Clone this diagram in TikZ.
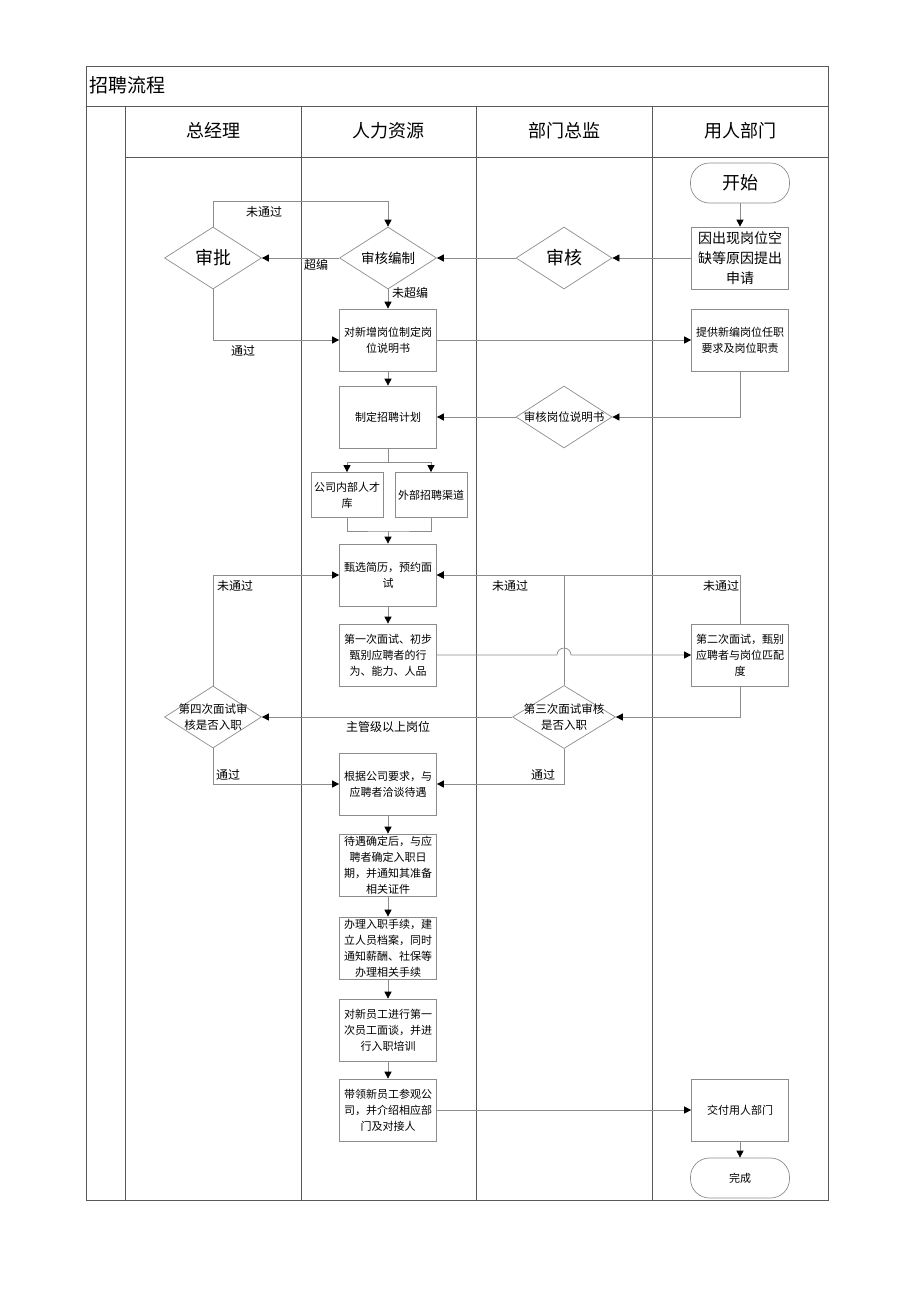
\documentclass[tikz,border=0pt]{standalone}
\usepackage{fontspec}
\setmainfont{Noto Sans CJK SC}
\usetikzlibrary{arrows.meta}
\usetikzlibrary{shapes.geometric}
\usetikzlibrary{positioning}
\definecolor{linegray}{gray}{0.55}
\definecolor{framegray}{gray}{0.35}

\begin{document}
\begin{tikzpicture}[x=1pt, y=-1pt,
    box/.style={draw=linegray, line width=0.7pt, minimum width=97pt, minimum height=62pt, inner sep=1pt,
      align=center, font=\fontsize{11}{16}\selectfont},
    smallbox/.style={box, minimum width=72pt, minimum height=45pt},
    term/.style={draw=linegray, line width=0.7pt, rounded corners=19pt, minimum width=99pt, minimum height=40pt,
      font=\fontsize{11}{14}\selectfont},
    dia/.style={draw=linegray, line width=0.7pt, shape=diamond, inner sep=0pt, minimum width=97pt, minimum height=62pt},
    dtxt/.style={align=center, font=\fontsize{11.5}{16}\selectfont},
    lbl/.style={font=\fontsize{12}{14}\selectfont, inner sep=0pt},
    flow/.style={draw=linegray, line width=0.7pt, -{Triangle[length=7pt, width=7pt, color=black]}}]
            \useasboundingbox (0,0) rectangle (920,1302);

            % Frame and lanes
            \draw[framegray, line width=1pt] (86,66) rectangle (828,1200);
            \draw[framegray, line width=1pt] (86,106) -- (828,106);
            \draw[framegray, line width=0.7pt] (125,157) -- (828,157);
            \foreach \x in {125, 301, 476, 652}
                \draw[framegray, line width=0.7pt] (\x,106) -- (\x,1200);
            \node[anchor=west, font=\fontsize{19}{19}\selectfont, inner sep=0pt] (title) at (89,85) {招聘流程};
            \foreach \x/\name in {213/总经理, 388/人力资源, 564/部门总监, 740/用人部门}
                \node[font=\fontsize{18}{18}\selectfont] (head-\x) at (\x,131) {\name};

            % Start and request
            \node[term, font=\fontsize{18}{18}\selectfont] (start) at (740,183) {开始};
            \node[box, font=\fontsize{14}{20}\selectfont] (req) at (740,258) {因出现岗位空\\缺等原因提出\\申请};

            % First checks
            \node[dia, minimum width=96pt, label={[dtxt, font=\fontsize{18}{18}\selectfont]center:审核}] (chk) at (564,258) {};
            \node[dia, label={[dtxt, font=\fontsize{13.5}{16}\selectfont]center:审核编制}] (quota) at (388,258) {};
            \node[dia, label={[dtxt, font=\fontsize{18}{18}\selectfont]center:审批}] (appr) at (213,258) {};

            % Job description
            \node[box] (desc) at (388,340) {对新增岗位制定岗\\位说明书};
            \node[box] (offer) at (740,340) {提供新编岗位任职\\要求及岗位职责};
            \node[dia, minimum width=96pt, label={[dtxt, font=\fontsize{11.5}{16}\selectfont]center:审核岗位说明书}] (chkdesc) at (564,417) {};
            \node[box] (plan) at (388,417) {制定招聘计划};

            % Channels
            \node[smallbox] (inner) at (347,495) {公司内部人才\\库};
            \node[smallbox] (outer) at (431,495) {外部招聘渠道};

            % Interviews
            \node[box] (screen) at (388,575) {甄选简历，预约面\\试};
            \node[box] (first) at (388,655) {第一次面试、初步\\甄别应聘者的行\\为、能力、人品};
            \node[box] (second) at (740,655) {第二次面试，甄别\\应聘者与岗位匹配\\度};
            \node[dia, minimum width=103pt, minimum height=63pt, label={[dtxt]center:第三次面试审核\\是否入职}] (d3) at (564,717) {};
            \node[dia, label={[dtxt]center:第四次面试审\\核是否入职}] (d4) at (213,717) {};

            % Hiring
            \node[box] (talk) at (388,784) {根据公司要求，与\\应聘者洽谈待遇};
            \node[box] (date) at (388,865) {待遇确定后，与应\\聘者确定入职日\\期，并通知其准备\\相关证件};
            \node[box] (entry) at (388,948) {办理入职手续，建\\立人员档案，同时\\通知薪酬、社保等\\办理相关手续};
            \node[box] (train) at (388,1030) {对新员工进行第一\\次员工面谈，并进\\行入职培训};
            \node[box] (tour) at (388,1110) {带领新员工参观公\\司，并介绍相应部\\门及对接人};
            \node[box] (hand) at (740,1110) {交付用人部门};
            \node[term] (done) at (740,1178) {完成};

            % Connectors, top part
            \draw[flow] (start) -- (req);
            \draw[flow] (req) -- (chk);
            \draw[flow] (chk) -- (quota);
            \draw[flow] (quota) -- (appr);
            \draw[flow] (appr.north) -- ++(0,-25) -| (quota.north);
            \draw[flow] (quota) -- (desc);
            \draw[flow] (appr.south) |- (desc.west);
            \draw[flow] (desc) -- (offer);
            \draw[flow] (offer.south) |- (chkdesc.east);
            \draw[flow] (chkdesc) -- (plan);
            \draw[flow] (desc) -- (plan);

            % Split and join
            \foreach \ch in {inner, outer}
                \draw[flow] (plan.south) -- ++(0,14) -| (\ch.north);
            \coordinate (join) at (388,531);
            \draw[linegray, line width=0.7pt] (inner.south) |- (join) -| (outer.south);
            \draw[flow] (join) -- (screen);

            % Interview loops
            \draw[flow] (screen) -- (first);
            \draw[flow] (first.east) -- (557,655) arc[start angle=180, end angle=360, radius=7] -- (second.west);
            \draw[flow] (second.south) |- (d3.east);
            \draw[flow] (d3.north) |- (screen.east);
            \draw[flow] (second.north) |- (screen.east);
            \draw[flow] (d3) -- (d4);
            \draw[flow] (d4.north) |- (screen.west);
            \draw[flow] (d4.south) |- (talk.west);
            \draw[flow] (d3.south) |- (talk.east);

            % Onboarding chain
            \foreach \a/\b in {talk/date, date/entry, entry/train, train/tour}
                \draw[flow] (\a) -- (\b);
            \draw[flow] (tour) -- (hand);
            \draw[flow] (hand) -- (done);

            % Labels
            \node[lbl] (l-fail1) at (264,212) {未通过};
            \node[lbl] (l-over) at (316,265) {超编};
            \node[lbl] (l-under) at (410,293) {未超编};
            \node[lbl] (l-pass1) at (243,351) {通过};
            \node[lbl] (l-fail2) at (235,586) {未通过};
            \node[lbl] (l-fail3) at (510,586) {未通过};
            \node[lbl] (l-fail4) at (721,586) {未通过};
            \node[lbl] (l-mgr) at (388,727) {主管级以上岗位};
            \node[lbl] (l-pass2) at (228,775) {通过};
            \node[lbl] (l-pass3) at (543,775) {通过};
        \end{tikzpicture}
\end{document}
